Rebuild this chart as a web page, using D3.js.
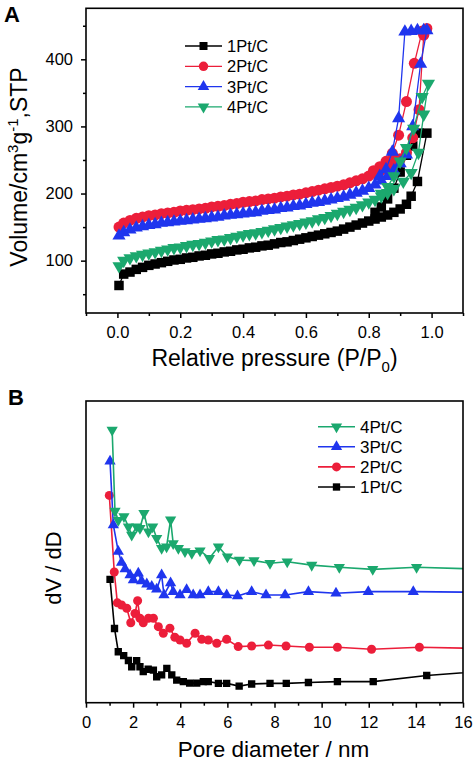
<!DOCTYPE html>
<html><head><meta charset="utf-8">
<script src="https://cdn.jsdelivr.net/npm/d3@7"></script>
<style>body{margin:0;background:#fff}svg{display:block}text{font-family:"Liberation Sans",Arial,sans-serif}</style>
</head><body><svg id="c" width="474" height="760"></svg>
<script>
// ---------- Panel A data (isotherms) ----------
const lowP = [0.005,0.02,0.04,0.06,0.08,0.10,0.12,0.14,0.16,0.18,0.20,0.22,0.24,0.26,0.28,0.30,0.32,0.34,0.36,0.38,0.40,0.42,0.44,0.46,0.48,0.50,0.52,0.54,0.56,0.58,0.60,0.62,0.64,0.66,0.68,0.70,0.72,0.74,0.76,0.78,0.80,0.82,0.84];
const v1Low = [63,80,83,87,90,93,95,97,99,101,102,104,105,107,108,110,111,113,114,116,117,119,120,122,123,125,127,128,130,132,134,136,138,140,142,144,147,150,153,156,159,162,165];
const v2Low = [150,156,160,163,165,167,168,170,171,172,174,175,176,177,178,180,181,182,184,185,187,188,189,191,192,193,195,196,198,199,201,203,205,207,209,211,213,216,219,222,226,230,235];
const v3Low = [137,142,146,149,151,153,154,156,157,158,159,160,161,162,163,164,165,167,168,169,170,171,172,174,175,176,178,179,181,182,184,186,187,189,191,193,195,198,201,204,208,213,219];
const v4Low = [92,100,104,107,109,111,113,115,117,119,120,122,124,125,127,129,131,132,134,136,138,140,141,143,145,147,149,151,153,155,157,159,162,164,167,170,173,176,179,183,187,191,196];
const p1Tail = [0.86,0.88,0.90,0.92,0.935,0.955,0.985,0.96,0.94,0.92,0.90,0.88,0.86,0.84,0.82];
const v1Tail = [168,172,177,184,196,218,290,290,271,257,232,208,192,180,172];
const p2Tail = [0.86,0.88,0.90,0.92,0.94,0.96,0.975,0.985,0.97,0.945,0.92,0.895,0.875,0.855,0.835,0.815];
const v2Tail = [240,246,252,261,283,325,436,446,442,394,337,287,260,248,240,234];
const p3Tail = [0.86,0.88,0.90,0.92,0.94,0.965,0.985,0.975,0.955,0.935,0.915,0.895,0.875,0.855,0.835];
const v3Tail = [226,234,245,258,300,393,443,443,443,442,441,312,262,236,226];
const p4Tail = [0.86,0.88,0.91,0.935,0.958,0.975,0.99,0.97,0.943,0.92,0.90,0.88,0.86,0.84];
const v4Tail = [201,207,218,231,261,318,364,344,297,268,248,226,210,200];
const xTicksA = [0.0,0.2,0.4,0.6,0.8,1.0];
const yTicksA = [100,200,300,400];

// ---------- Panel B data (pore size distribution) ----------
const d1 = [1.02,1.21,1.37,1.60,1.80,1.94,2.15,2.29,2.43,2.64,2.86,3.00,3.21,3.43,3.64,3.85,4.13,4.40,4.70,4.98,5.19,5.62,5.97,6.50,7.03,7.81,8.50,9.44,10.67,12.19,14.46,17.0];
const s1 = [40.9,24.6,16.9,15.6,14.0,11.9,13.9,11.9,10.3,11.1,10.8,8.6,9.2,11.4,9.2,7.5,7.0,6.5,6.5,7.0,7.0,6.4,6.4,5.5,6.2,6.4,6.4,6.7,7.0,7.0,9.0,10.5];
const d2 = [0.99,1.20,1.33,1.51,1.73,1.90,2.08,2.19,2.29,2.43,2.65,2.86,3.07,3.28,3.56,3.77,3.99,4.27,4.63,4.91,5.19,5.55,5.97,6.46,7.03,7.74,8.49,9.48,10.67,12.12,14.15,17.0];
const s2 = [68.7,43.3,33.1,32.4,31.3,26.5,29.6,33.8,28.0,26.5,28.0,28.0,25.2,23.0,24.7,21.7,20.8,19.7,23.0,21.0,20.8,19.7,21.0,18.6,18.8,19.1,18.8,18.4,18.4,17.7,18.4,17.9];
const d3s = [1.02,1.16,1.37,1.51,1.66,1.87,2.01,2.22,2.36,2.58,2.79,3.00,3.21,3.31,3.59,3.70,3.99,4.27,4.55,4.84,5.19,5.62,5.97,6.43,7.03,7.64,8.45,9.44,10.61,11.98,13.89,17.0];
const s3 = [80.0,58.9,50.1,46.5,44.3,42.3,40.7,42.9,40.3,39.3,38.5,37.6,42.3,35.7,39.7,36.8,35.7,37.4,35.7,35.7,36.8,36.8,35.7,35.4,36.8,35.7,35.7,36.8,36.3,36.8,36.8,36.6];
const d4 = [1.11,1.23,1.37,1.61,1.80,1.94,2.15,2.29,2.46,2.65,2.83,3.00,3.21,3.42,3.59,3.70,3.92,4.20,4.49,4.84,5.24,5.62,6.00,6.51,7.13,7.81,8.54,9.58,10.75,12.17,14.03,17.0];
const s4 = [90.4,63.5,60.5,61.7,58.3,55.6,58.3,57.8,62.8,56.7,58.3,54.5,51.2,51.7,60.6,52.8,51.2,50.1,49.5,50.4,47.9,51.7,48.4,47.3,47.1,46.2,46.7,45.6,44.9,44.2,44.9,44.2];
const xTicksB = [0,2,4,6,8,10,12,14,16];

const names = ["1Pt/C","2Pt/C","3Pt/C","4Pt/C"];
const colors = ["#000000","#ec1e3a","#1f35ee","#1ba86e"];
const shapes = ["square","circle","up","down"];

const svg = d3.select("#c");
svg.append("rect").attr("width",474).attr("height",760).attr("fill","#fff");

function symPath(shape, size){
  const t = shape==="square"?d3.symbolSquare:shape==="circle"?d3.symbolCircle:d3.symbolTriangle;
  return d3.symbol().type(t).size(size)();
}
function drawMarker(g, shape, x, y, size, color){
  g.append("path").attr("d", symPath(shape,size))
   .attr("transform", `translate(${x},${y})` + (shape==="down"?" rotate(180)":""))
   .attr("fill", color);
}
function frame(g, x0, y0, x1, y1){
  g.append("rect").attr("x",x0).attr("y",y0).attr("width",x1-x0).attr("height",y1-y0)
   .attr("fill","none").attr("stroke","#000").attr("stroke-width",1.6);
}
function styleAxis(sel, fs){
  sel.select(".domain").remove();
  sel.selectAll("line").attr("stroke","#000").attr("stroke-width",1.5);
  sel.selectAll("text").attr("font-size",fs).attr("fill","#000").attr("font-family","'Liberation Sans',Arial,sans-serif");
}

// ================= Panel A =================
const A = {l:86, t:8.3, r:463, b:313};
const xA = d3.scaleLinear().domain([-0.1,1.1]).range([A.l,A.r]);
const yA = d3.scaleLinear().domain([22,476]).range([A.b,A.t]);
const gA = svg.append("g");

const seriesA = [
  {p: lowP.concat(p1Tail), v: v1Low.concat(v1Tail)},
  {p: lowP.concat(p2Tail), v: v2Low.concat(v2Tail)},
  {p: lowP.concat(p3Tail), v: v3Low.concat(v3Tail)},
  {p: lowP.concat(p4Tail), v: v4Low.concat(v4Tail)}
];
const sizeA = {square:90, circle:95, up:75, down:75};
const lineA = d3.line().x(d=>xA(d[0])).y(d=>yA(d[1]));
seriesA.forEach((s,i)=>{
  const pts = s.p.map((p,j)=>[p,s.v[j]]);
  gA.append("path").attr("d",lineA(pts)).attr("fill","none").attr("stroke",colors[i]).attr("stroke-width",1.3);
  pts.forEach(d=>drawMarker(gA, shapes[i], xA(d[0]), yA(d[1]), sizeA[shapes[i]], colors[i]));
});

// minor ticks
const axAminor = gA.append("g").attr("transform",`translate(0,${A.b})`)
  .call(d3.axisBottom(xA).tickValues([-0.1,0.1,0.3,0.5,0.7,0.9,1.1]).tickSize(3).tickFormat(""));
styleAxis(axAminor,16);
const axA = gA.append("g").attr("transform",`translate(0,${A.b})`)
  .call(d3.axisBottom(xA).tickValues(xTicksA).tickSize(5).tickPadding(8).tickFormat(d3.format(".1f")));
styleAxis(axA,16.5);
const ayAminor = gA.append("g").attr("transform",`translate(${A.l},0)`)
  .call(d3.axisLeft(yA).tickValues([50,150,250,350,450]).tickSize(3).tickFormat(""));
styleAxis(ayAminor,16);
const ayA = gA.append("g").attr("transform",`translate(${A.l},0)`)
  .call(d3.axisLeft(yA).tickValues(yTicksA).tickSize(5).tickPadding(8).tickFormat(d3.format("d")));
styleAxis(ayA,16.5);
frame(gA, A.l, A.t, A.r, A.b);

// titles A
const xtA = svg.append("text").attr("x",(A.l+A.r)/2+0).attr("y",366).attr("text-anchor","middle").attr("font-size",23);
xtA.append("tspan").text("Relative pressure (P/P");
xtA.append("tspan").text("0").attr("font-size",15).attr("dy",6);
xtA.append("tspan").text(")").attr("dy",-6);
const ytA = svg.append("text").attr("transform","translate(27,167) rotate(-90)").attr("text-anchor","middle").attr("font-size",23);
ytA.append("tspan").text("Volume/cm");
ytA.append("tspan").text("3").attr("font-size",15).attr("dy",-9);
ytA.append("tspan").text("g").attr("dy",9);
ytA.append("tspan").text("-1").attr("font-size",15).attr("dy",-9);
ytA.append("tspan").text(",STP").attr("dy",9);
svg.append("text").attr("x",4).attr("y",22).attr("font-size",22).attr("font-weight","bold").text("A");

// legend A
const legA = svg.append("g");
[0,1,2,3].forEach((i,k)=>{
  const y = 46 + k*20.3;
  legA.append("line").attr("x1",185).attr("x2",222).attr("y1",y).attr("y2",y).attr("stroke",colors[i]).attr("stroke-width",1.3);
  drawMarker(legA, shapes[i], 203.5, y, {square:64,circle:70,up:58,down:58}[shapes[i]], colors[i]);
  legA.append("text").attr("x",227).attr("y",y+6).attr("font-size",16.5).text(names[i]);
});

// ================= Panel B =================
const B = {l:86, t:401, r:463, b:702.7};
const xB = d3.scaleLinear().domain([0,16]).range([B.l,B.r]);
const yB = d3.scaleLinear().domain([0,100]).range([B.b,B.t]);
const gB = svg.append("g");
svg.append("clipPath").attr("id","clipB").append("rect").attr("x",B.l).attr("y",B.t).attr("width",B.r-B.l).attr("height",B.b-B.t);
const plotB = gB.append("g").attr("clip-path","url(#clipB)");
const seriesB = [{d:d1,s:s1},{d:d2,s:s2},{d:d3s,s:s3},{d:d4,s:s4}];
const sizeB = {square:54, circle:64, up:55, down:55};
const lineB = d3.line().x(d=>xB(d[0])).y(d=>yB(d[1]));
seriesB.forEach((s,i)=>{
  const pts = s.d.map((x,j)=>[x,s.s[j]]);
  plotB.append("path").attr("d",lineB(pts)).attr("fill","none").attr("stroke",colors[i]).attr("stroke-width",1.6);
  pts.forEach(d=>drawMarker(plotB, shapes[i], xB(d[0]), yB(d[1]), sizeB[shapes[i]], colors[i]));
});
const axBminor = gB.append("g").attr("transform",`translate(0,${B.b})`)
  .call(d3.axisBottom(xB).tickValues([1,3,5,7,9,11,13,15]).tickSize(3).tickFormat(""));
styleAxis(axBminor,16);
const axB = gB.append("g").attr("transform",`translate(0,${B.b})`)
  .call(d3.axisBottom(xB).tickValues(xTicksB).tickSize(5).tickPadding(9).tickFormat(d3.format("d")));
styleAxis(axB,16.5);
frame(gB, B.l, B.t, B.r, B.b);

svg.append("text").attr("x",(B.l+B.r)/2-1).attr("y",756.5).attr("text-anchor","middle").attr("font-size",22.5).text("Pore diameter / nm");
svg.append("text").attr("transform","translate(61,568) rotate(-90)").attr("text-anchor","middle").attr("font-size",22).text("dV / dD");
svg.append("text").attr("x",8).attr("y",405).attr("font-size",22).attr("font-weight","bold").text("B");

const legB = svg.append("g");
[3,2,1,0].forEach((i,k)=>{
  const y = 426.7 + k*20.1;
  legB.append("line").attr("x1",318).attr("x2",355).attr("y1",y).attr("y2",y).attr("stroke",colors[i]).attr("stroke-width",1.6);
  drawMarker(legB, shapes[i], 336.5, y, {square:54,circle:64,up:55,down:55}[shapes[i]], colors[i]);
  legB.append("text").attr("x",360).attr("y",y+6).attr("font-size",17).text(names[i]);
});
</script></body></html>
